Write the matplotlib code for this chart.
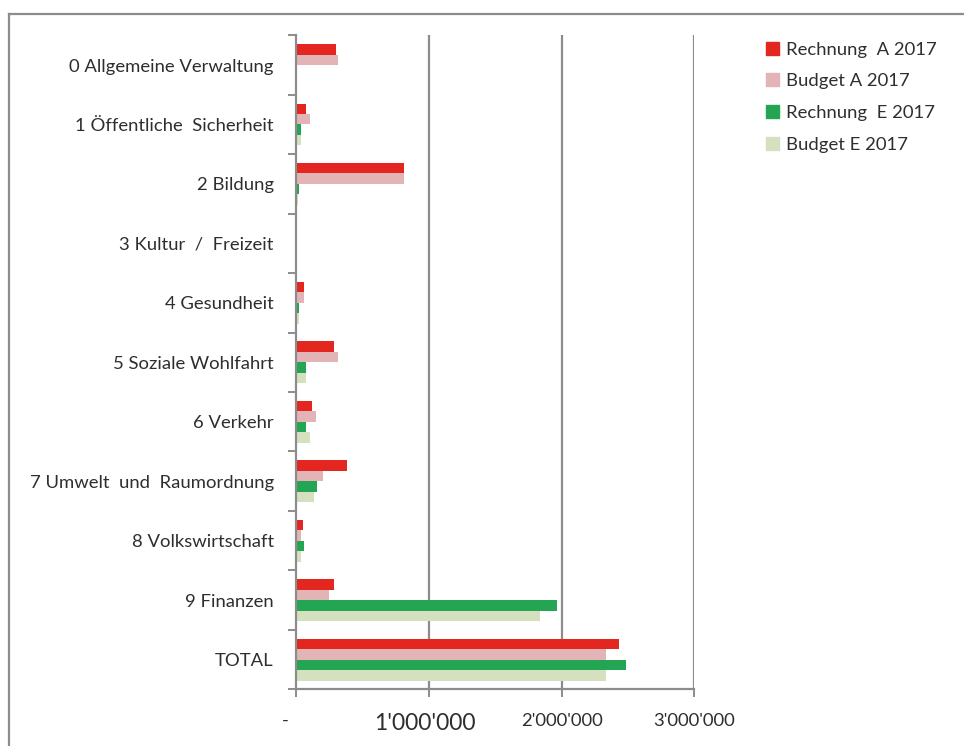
import numpy as np
import matplotlib
matplotlib.use('Agg')
import matplotlib.pyplot as plt
from matplotlib.lines import Line2D
from matplotlib.patches import Patch
from matplotlib.transforms import ScaledTranslation

plt.rcParams['font.family'] = ['Lato', 'DejaVu Sans']

categories = ['0 Allgemeine Verwaltung', '1 Öffentliche  Sicherheit', '2 Bildung',
              '3 Kultur  /  Freizeit', '4 Gesundheit', '5 Soziale Wohlfahrt',
              '6 Verkehr', '7 Umwelt  und  Raumordnung', '8 Volkswirtschaft',
              '9 Finanzen', 'TOTAL']

rechnung_a = [302000, 75000, 817000, 0, 60000, 284000, 121000, 382000, 55000, 284000, 2433000]
budget_a = [317000, 106000, 817000, 0, 58000, 317000, 153000, 204000, 40000, 251000, 2335000]
rechnung_e = [0, 40000, 25000, 0, 25000, 73000, 73000, 156000, 58000, 1966000, 2484000]
budget_e = [0, 38000, 18000, 0, 20000, 73000, 106000, 138000, 40000, 1835000, 2335000]

series = [('Rechnung  A 2017', rechnung_a, '#e3261f'),
          ('Budget A 2017', budget_a, '#e2b4b6'),
          ('Rechnung  E 2017', rechnung_e, '#24a553'),
          ('Budget E 2017', budget_e, '#d5e1be')]

xticks = [0, 1000000, 2000000, 3000000]
xticklabels = ['-', "1'000'000", "2'000'000", "3'000'000"]

txt_col = '#2e2e2e'
fs = 13.3

fig = plt.figure(figsize=(9.64, 7.46), dpi=100)
ax = fig.add_axes([296 / 964, 1 - 689.3 / 746, (694.3 - 296) / 964, (689.3 - 35.3) / 746])

y = np.arange(len(categories))
h = 0.176
for k, (name, vals, col) in enumerate(series):
    ax.barh(y + (k - 1.5) * h, vals, height=h, color=col, label=name)

ax.set_xlim(0, 3000000)
ax.set_ylim(len(categories) - 0.5, -0.5)

grid_col = '#8c8c8c'
for xv in xticks[1:]:
    ax.axvline(xv, color=grid_col, lw=1.6, zorder=0)

for s in ['top', 'right']:
    ax.spines[s].set_visible(False)
for s in ['left', 'bottom']:
    ax.spines[s].set_color(grid_col)
    ax.spines[s].set_linewidth(1.6)

ax.set_yticks(y)
ax.set_yticklabels(categories, fontsize=fs, color=txt_col)
ax.tick_params(axis='y', which='major', length=0, pad=16)
ax.set_yticks(np.arange(len(categories) + 1) - 0.5, minor=True)
ax.tick_params(axis='y', which='minor', length=6, width=1.4, color=grid_col)

ax.set_xticks(xticks)
ax.set_xticklabels(xticklabels, fontsize=fs, color=txt_col)
ax.tick_params(axis='x', length=6, width=1.4, color=grid_col, pad=11)
labs = ax.get_xticklabels()
labs[0].set_transform(labs[0].get_transform() + ScaledTranslation(-11 / 100, 0, fig.dpi_scale_trans))
labs[1].set_fontsize(16.5)
labs[1].set_transform(labs[1].get_transform() + ScaledTranslation(-4 / 100, 0, fig.dpi_scale_trans))

handles = [Patch(color=c, label=n) for n, _, c in series]
fig.legend(handles=handles, loc='upper left', bbox_to_anchor=(749 / 964, 1 - 25 / 746),
           frameon=False, fontsize=fs, handlelength=0.7, handleheight=0.7,
           handletextpad=0.4, labelspacing=0.85, labelcolor=txt_col)

# outer frame of the chart area
fig.add_artist(Line2D([8.5 / 964, 8.5 / 964], [0, 1 - 13.5 / 746], transform=fig.transFigure,
                      color=grid_col, lw=1.6))
fig.add_artist(Line2D([8.5 / 964, 1], [1 - 13.5 / 746, 1 - 13.5 / 746], transform=fig.transFigure,
                      color=grid_col, lw=1.6))

fig.savefig('out.png', dpi=100)
